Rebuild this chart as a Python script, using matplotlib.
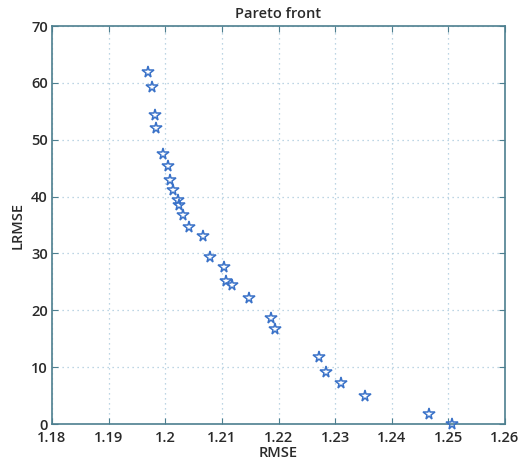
import matplotlib
matplotlib.use("Agg")
import matplotlib.pyplot as plt

# Pareto front points: RMSE vs LRMSE
rmse = [1.1970, 1.1977, 1.1981, 1.1984, 1.1996, 1.2004, 1.2008, 1.2014,
        1.2022, 1.2025, 1.2031, 1.2042, 1.2066, 1.2079, 1.2104, 1.2107,
        1.2118, 1.2147, 1.2187, 1.2193, 1.2271, 1.2283, 1.2310, 1.2353,
        1.2466, 1.2506]
lrmse = [61.9, 59.2, 54.3, 52.1, 47.5, 45.3, 43.0, 41.1,
         39.4, 38.5, 36.7, 34.6, 33.0, 29.4, 27.7, 25.2,
         24.4, 22.2, 18.6, 16.7, 11.7, 9.2, 7.2, 4.9,
         1.7, 0.0]

xticks = [1.18, 1.19, 1.2, 1.21, 1.22, 1.23, 1.24, 1.25, 1.26]
xticklabels = ["1.18", "1.19", "1.2", "1.21", "1.22", "1.23", "1.24", "1.25", "1.26"]
yticks = [0, 10, 20, 30, 40, 50, 60, 70]

plt.rcParams['font.family'] = ['Open Sans', 'DejaVu Sans']
axis_col = "#4d7f8f"
text_col = "#2a2a2a"

fig = plt.figure(figsize=(5.28, 4.66), dpi=100)
ax = fig.add_axes([0.0985, 0.0901, 0.858, 0.8541])

ax.plot(rmse, lrmse, linestyle="none", marker="*", markersize=8.5,
        markerfacecolor="none", markeredgecolor="#3a72c8", markeredgewidth=1.1,
        clip_on=False, zorder=3)

ax.set_xlim(1.18, 1.26)
ax.set_ylim(0, 70)
ax.set_xticks(xticks)
ax.set_xticklabels(xticklabels)
ax.set_yticks(yticks)

ax.grid(True, linestyle=(0, (1, 3)), color="#a8c8dc", linewidth=0.9)
ax.tick_params(direction="in", top=True, right=True, length=4, width=0.8,
               colors=axis_col, labelcolor=text_col, labelsize=10.5)
ax.tick_params(axis="x", pad=5)
ax.tick_params(axis="y", pad=3)
for sp in ax.spines.values():
    sp.set_color(axis_col)
    sp.set_linewidth(1.2)

ax.set_title("Pareto front", fontsize=10.5, color=text_col, fontweight="semibold", pad=6)
ax.set_xlabel("RMSE", fontsize=10.5, color=text_col, fontweight="semibold", labelpad=1)
ax.set_ylabel("LRMSE", fontsize=10.5, color=text_col, fontweight="semibold", labelpad=5)
for lbl in ax.get_xticklabels() + ax.get_yticklabels():
    lbl.set_fontweight("semibold")

fig.savefig("out.png", dpi=100)
